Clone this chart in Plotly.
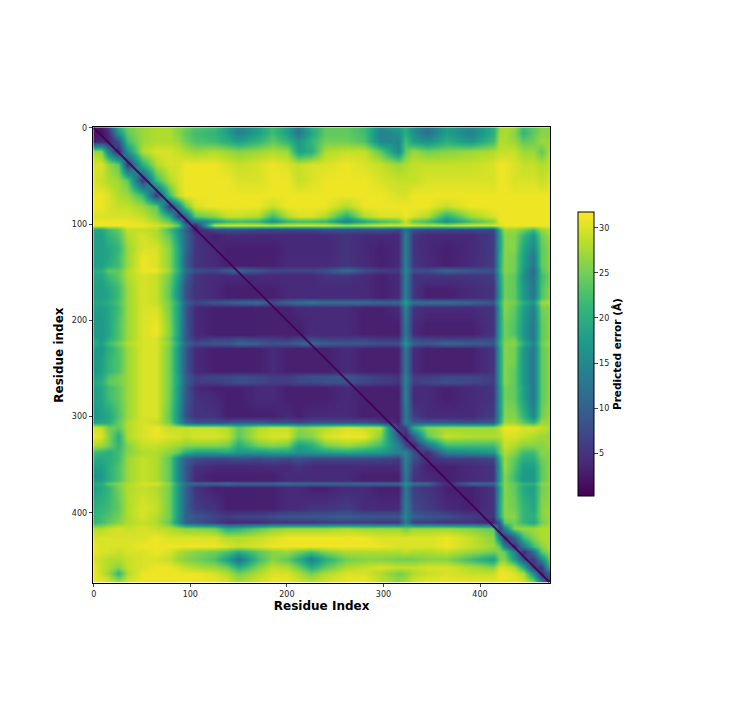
import plotly.graph_objects as go

residue_x = [0,8,15,25,35,50,65,78,88,95,105,125,138,150,170,185,200,212,225,240,262,280,297,315,323,331,345,365,390,414,420,425,435,445,455,463,472]
residue_y = [0,6,14,24,38,55,70,82,92,97,101,105,112,125,135,143,148,153,168,176,181,186,205,214,219,224,229,240,253,258,264,269,280,300,306,311,320,330,337,343,352,362,366,369,373,395,403,410,416,425,435,440,448,456,463,472]

pae = [
[2,2,6,20,25,27,28,28,26,25,23,22,18,14,18,22,18,13,20,24,24,22,15,18,20,16,12,18,15,20,27,28,27,22,24,26,26],
[2,2,4,16,24,27,28,28,26,24,22,21,18,14,18,22,18,13,19,24,24,22,14,16,20,16,12,18,14,20,27,28,26,21,24,26,26],
[3,4,3,8,22,27,28,28,27,25,23,22,20,18,21,24,21,17,21,25,25,23,15,15,22,18,16,20,17,22,28,28,27,24,25,27,27],
[27,26,14,3,16,28,30,30,29,28,27,28,27,26,27,28,27,18,20,28,29,29,24,15,24,27,25,26,27,28,29,29,29,27,27,24,28],
[30,30,27,24,5,20,28,30,30,31,31,31,30,29,30,31,30,29,30,30,31,30,29,27,28,29,29,29,29,30,31,31,30,29,29,28,29],
[30,29,28,27,24,5,22,28,30,31,31,31,31,30,30,31,31,29,30,31,31,31,30,29,29,29,30,30,30,30,31,31,30,30,30,29,30],
[31,31,30,28,27,22,5,22,29,31,31,31,31,31,31,31,31,31,31,31,31,31,31,30,30,31,31,31,31,31,31,31,31,31,31,31,31],
[31,31,30,29,29,27,24,5,14,24,30,31,31,31,31,29,31,31,31,31,28,31,31,31,31,31,31,29,31,31,31,31,31,31,31,31,31],
[30,30,30,30,30,29,26,20,6,10,24,26,29,29,28,22,28,30,30,28,20,28,30,30,31,30,28,20,27,30,31,31,31,31,31,31,31],
[31,31,31,31,31,30,28,24,18,6,12,18,21,22,21,16,21,22,22,21,14,19,22,24,29,24,22,16,22,26,31,31,31,31,31,31,31],
[31,31,31,31,31,31,30,28,24,12,3,29,30,30,30,29,30,30,30,30,28,29,30,30,30,30,29,29,30,30,30,31,31,31,31,31,31],
[19,19,22,24,29,29,28,22,16,10,3,7,8,8,7,7,7,7,7,8,8,8,8,7,12,8,7,7,7,7,20,27,27,25,22,27,28],
[18,18,21,23,28,30,28,24,17,11,5,3,4,4,4,4,4,4,4,4,5,4,4,4,14,5,4,4,4,6,18,26,26,21,17,25,27],
[18,18,19,21,27,30,30,26,19,11,5,4,3,3,3,3,4,4,4,4,5,4,3,4,14,5,4,3,4,6,18,26,26,19,15,24,26],
[18,18,19,22,27,31,30,26,19,10,5,4,3,3,3,3,4,4,4,4,5,4,3,4,14,5,4,3,4,6,19,26,25,18,13,24,26],
[18,18,20,22,27,31,30,26,19,10,5,4,3,3,3,3,4,4,4,4,5,4,3,4,14,5,4,3,4,6,19,26,25,18,13,24,26],
[20,20,24,24,28,31,31,27,20,12,8,7,10,11,9,7,7,7,7,8,12,8,6,6,15,8,8,11,9,8,20,26,25,17,11,23,26],
[19,19,22,24,28,30,29,25,18,10,5,4,4,4,4,4,4,4,4,5,5,4,3,4,14,5,5,5,5,6,18,25,24,16,12,22,25],
[18,18,19,22,27,30,29,24,16,8,5,4,3,3,3,3,4,4,4,4,4,4,3,4,14,5,3,3,4,5,17,25,24,17,13,23,26],
[18,18,19,22,27,30,29,24,16,8,5,4,3,3,3,3,4,4,4,4,4,4,3,4,14,5,3,3,4,5,17,25,24,17,13,23,26],
[19,19,20,23,27,30,29,25,19,10,7,9,10,11,12,8,11,12,13,12,12,12,11,11,18,12,12,12,11,9,20,26,25,20,17,27,28],
[18,18,19,22,27,30,30,25,18,9,4,3,3,3,3,3,3,4,4,4,4,3,3,4,14,5,4,4,4,5,18,26,24,18,14,25,26],
[17,17,19,23,27,30,31,26,18,9,4,3,3,3,3,3,3,3,4,4,4,3,3,3,13,4,3,3,3,5,18,25,23,17,13,24,26],
[17,17,19,23,27,30,31,26,18,9,4,3,3,3,3,3,3,3,4,4,4,3,3,3,13,4,3,3,3,5,18,25,23,17,13,24,26],
[19,17,20,23,27,30,30,25,17,9,5,6,6,7,6,6,5,6,7,6,6,6,5,5,14,7,6,6,6,7,19,25,25,17,13,24,26],
[20,18,22,25,28,30,30,26,19,11,8,9,9,11,10,8,9,10,11,10,9,9,8,8,17,10,9,11,10,9,20,26,26,20,15,25,27],
[18,17,20,23,27,30,30,25,17,9,4,3,3,3,3,4,3,3,3,3,4,3,3,3,13,4,3,3,3,5,18,26,25,17,13,24,26],
[17,18,21,23,27,30,30,25,17,9,4,3,3,3,3,4,3,3,3,3,4,3,3,3,13,4,3,3,3,5,18,26,25,17,13,24,26],
[17,18,21,23,27,30,30,25,17,9,4,3,3,3,3,4,3,3,3,3,4,3,3,3,13,4,3,3,3,5,18,26,24,17,13,24,26],
[18,19,23,25,27,30,30,25,18,10,6,7,7,8,7,6,6,7,8,8,9,7,6,5,14,6,6,7,7,6,18,26,24,17,13,24,26],
[19,20,24,25,27,30,30,25,18,10,6,6,7,8,7,6,6,7,7,8,8,7,6,5,14,6,7,8,7,6,18,26,24,17,13,24,26],
[18,19,22,24,27,30,30,25,17,9,4,3,3,3,4,4,3,3,3,3,4,3,3,3,14,4,4,3,4,5,17,25,24,18,13,24,26],
[18,19,22,24,27,30,30,25,17,9,5,4,3,3,4,4,3,3,3,3,4,3,3,3,14,4,4,3,4,5,17,25,24,18,13,24,26],
[17,18,19,23,27,30,30,24,16,8,5,5,3,3,3,3,4,3,4,4,4,3,3,3,13,6,4,4,4,6,17,26,26,21,15,25,27],
[18,19,20,24,28,30,29,25,17,11,8,8,8,9,9,8,8,7,8,8,8,8,6,3,14,9,9,9,8,9,19,27,27,24,21,27,27],
[30,29,25,24,28,30,31,29,29,29,29,29,28,24,28,29,29,26,27,28,30,29,28,5,6,20,26,27,27,27,29,31,31,30,30,29,28],
[31,30,26,20,28,30,31,30,30,29,30,30,29,24,29,30,30,25,26,30,31,31,26,9,3,9,24,29,28,28,28,30,30,29,28,27,27],
[28,27,25,21,26,29,29,28,27,26,26,26,25,20,25,26,25,18,20,25,27,25,22,14,7,3,12,22,22,22,25,29,28,26,26,26,27],
[22,21,20,22,26,28,28,26,24,20,18,18,19,17,17,18,18,16,17,18,19,18,17,14,15,8,4,14,15,17,24,28,26,22,22,26,26],
[20,19,20,22,27,29,28,24,15,10,8,7,7,8,7,8,7,8,7,7,7,7,7,6,14,8,4,6,6,7,20,27,24,20,20,25,26],
[18,18,20,23,27,29,28,24,15,9,5,4,4,4,4,4,4,5,4,4,4,4,4,4,14,6,3,3,4,5,18,27,23,18,18,24,26],
[16,17,20,23,27,29,28,24,15,9,4,3,3,3,3,3,4,4,4,4,4,3,3,3,13,5,4,3,4,5,18,26,22,17,17,24,26],
[17,18,20,23,27,29,28,24,15,9,4,3,3,3,3,3,4,4,4,4,4,3,3,3,13,5,4,3,4,5,18,26,22,17,17,24,26],
[19,20,24,26,28,30,30,26,18,12,11,11,12,11,11,11,12,11,11,11,11,11,11,11,17,12,11,4,11,11,21,26,24,21,20,26,27],
[18,19,21,25,28,29,28,25,17,10,5,3,3,3,3,3,4,4,3,3,4,4,3,3,13,6,5,3,3,5,18,26,24,19,18,25,26],
[20,21,22,24,28,30,29,25,17,10,6,5,3,3,3,3,4,4,5,5,6,4,4,4,14,7,6,4,3,5,19,26,25,21,19,26,27],
[21,22,23,25,28,30,28,25,17,10,9,7,6,7,7,8,9,9,9,9,10,9,9,9,15,10,9,8,6,5,19,26,26,21,20,26,27],
[21,22,24,26,28,29,28,24,16,10,8,6,4,4,4,5,5,5,5,6,6,6,5,5,13,6,6,5,5,3,9,24,25,21,19,25,27],
[28,28,29,30,29,30,29,28,27,26,26,25,20,21,24,26,27,27,27,27,28,27,27,27,25,27,27,27,26,24,5,14,26,27,27,28,28],
[30,30,30,30,30,30,31,30,30,30,30,30,28,28,29,30,31,31,31,31,31,31,30,30,30,30,30,31,29,26,14,4,10,22,26,28,28],
[31,30,30,30,30,31,31,31,31,31,31,31,30,29,30,31,31,31,31,31,31,31,31,30,30,30,30,31,29,27,24,14,4,13,22,26,28],
[31,30,30,29,30,30,31,30,28,27,26,25,23,20,24,26,27,25,23,26,28,28,28,28,29,28,28,29,27,25,26,24,14,4,12,24,27],
[30,29,28,28,29,30,30,29,27,26,25,23,18,12,22,26,24,20,14,20,25,26,26,25,25,25,26,26,22,18,25,26,18,8,5,15,24],
[31,29,28,26,29,30,31,31,30,29,28,27,25,20,26,29,28,25,20,24,28,29,30,29,29,29,30,30,28,26,30,30,28,20,6,5,20],
[31,29,27,21,28,31,31,31,31,31,31,30,28,25,28,30,30,28,25,28,30,30,28,25,26,28,29,30,29,29,31,31,30,28,16,4,10],
[31,31,30,28,30,31,31,31,31,31,31,31,30,28,30,31,31,30,29,30,31,31,29,27,28,30,31,31,31,31,31,31,31,30,27,14,2],
]

diagonal = [0, 472]
x_ticks = [0, 100, 200, 300, 400]
cbar_ticks = [5, 10, 15, 20, 25, 30]
FONT = "DejaVu Sans"

fig = go.Figure()
fig.add_trace(go.Heatmap(
    x=residue_x, y=residue_y, z=pae, zmin=0.25, zmax=31.75, colorscale="Viridis",
    zsmooth="best",
    colorbar=dict(
        x=578/738, xanchor="left", xpad=0, y=1-352/720, yanchor="middle", ypad=0, lenmode="pixels", len=284,
        thicknessmode="pixels", thickness=16, outlinecolor="black", outlinewidth=1,
        tickvals=cbar_ticks, ticks="outside", ticklen=3.5, tickwidth=1,
        tickfont=dict(family=FONT, size=8, color="#222"),
        title=dict(text="<b>Predicted error (Å)</b>", side="right", font=dict(family=FONT, size=10.5, color="black")),
    ),
))
fig.add_trace(go.Scatter(x=diagonal, y=diagonal, mode="lines", line=dict(color="#440154", width=2),
                         opacity=0.9, showlegend=False, hoverinfo="skip"))

axis_common = dict(showgrid=False, zeroline=False, showline=True, mirror=True, linecolor="black", linewidth=1,
                   ticks="outside", ticklen=3.5, tickwidth=1, tickvals=x_ticks,
                   tickfont=dict(family=FONT, size=8, color="#222"))
fig.update_layout(
    width=738, height=720, margin=dict(l=0, r=0, t=0, b=0),
    paper_bgcolor="white", plot_bgcolor="white", showlegend=False,
    xaxis=dict(domain=[91.5/738, 549.5/738], range=[-0.5, 472.5],
               title=dict(text="<b>Residue Index</b>", font=dict(family=FONT, size=12, color="black"), standoff=2),
               **axis_common),
    yaxis=dict(domain=[1-582/720, 1-124/720], range=[472.5, -0.5],
               title=dict(text="<b>Residue index</b>", font=dict(family=FONT, size=12, color="black"), standoff=5),
               **axis_common),
)
fig.write_html("out.html", config=dict(displayModeBar=False),
               post_script="document.body.style.margin='0';document.documentElement.style.overflow='hidden';")
